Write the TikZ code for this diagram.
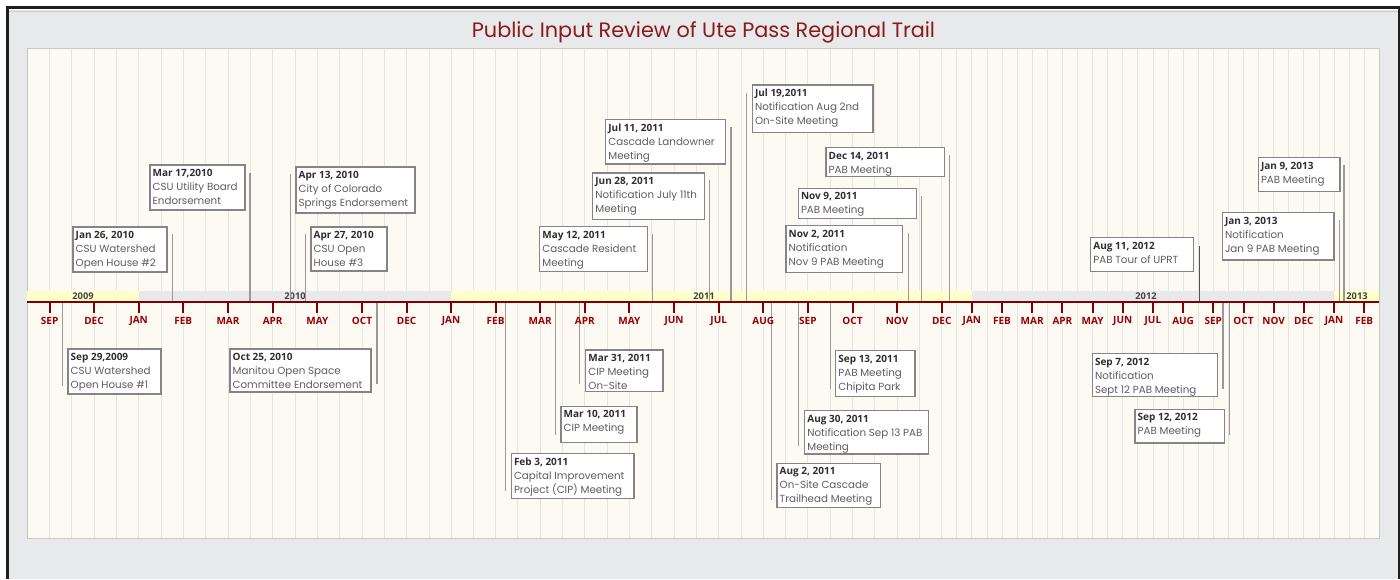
\documentclass[tikz,border=0pt]{standalone}
\usepackage{fontspec}
\setmainfont{Poppins}
\newfontfamily\opensans{Open Sans}
\definecolor{framegray}{HTML}{E8E9EB}
\definecolor{cream}{HTML}{FCFAF3}
\definecolor{gridc}{HTML}{E4E4E4}
\definecolor{plotb}{HTML}{C8C8C8}
\definecolor{axisred}{HTML}{800000}
\definecolor{monthred}{HTML}{990000}
\definecolor{titlered}{HTML}{8B1A1A}
\definecolor{yellowband}{HTML}{FFFFCC}
\definecolor{grayband}{HTML}{E8E9EB}
\definecolor{boxb}{HTML}{858585}
\definecolor{bodyc}{HTML}{5E5E5E}
\definecolor{datec}{HTML}{2E2E2E}
\definecolor{yearc}{HTML}{444444}
\colorlet{connc}{black!40}
\tikzset{
  evbox/.style={draw=boxb, line width=1.1pt, fill=white, inner sep=0pt, outer sep=0pt},
  conn/.style={draw=connc, line width=1.4pt},
  gridline/.style={draw=gridc, line width=0.9pt},
  tickmark/.style={draw=axisred, line width=2pt},
  monthlbl/.style={font=\opensans\bfseries\fontsize{10}{12}\selectfont, text=monthred, inner sep=0pt},
  yearlbl/.style={font=\opensans\bfseries\fontsize{9.3}{10}\selectfont, text=yearc, inner sep=0pt, anchor=base},
  axisline/.style={draw=axisred, line width=2.6pt}
}
\newcommand\evd[1]{\hbox{\opensans\bfseries\fontsize{10}{14}\selectfont\color{datec}#1}}
\newcommand\evl[1]{\hbox{\fontsize{10.3}{14}\selectfont\color{bodyc}#1}}
\newcommand\ev[9]{%
  \node[evbox, anchor=north west, minimum width={(#4-#2)*1pt}, minimum height={(#5-#3)*1pt}] (#1) at (#2,#3) {};
  \node[inner sep=0pt, anchor=base west] (#1t) at ([xshift=2.5pt,yshift=-11.5pt]#1.north west)
     {\vtop{\baselineskip=14pt\lineskiplimit=-10pt #9}};
  \coordinate (#1a) at (#6,#7);
  \coordinate (#1b) at (#6,#8);
  \draw[conn] (#1a) -- (#1b);
}
\begin{document}
\begin{tikzpicture}[x=1pt,y=-1pt]
\useasboundingbox (0,0) rectangle (1400,579);
% frame
\fill[white] (0,0) rectangle (1400,579);
\fill[framegray] (8.5,10.2) rectangle (1398,579);
\draw[plotb, line width=0.8pt] (8.5,11) -- (1398,11);
\draw[black!88, line width=2.6pt] (7.5,579) -- (7.5,7.3) -- (1399,7.3) -- (1399,579);
% title
\node[font=\fontsize{20.8}{24}\selectfont, text=titlered, anchor=base, inner sep=0pt] (title) at (703.5,37.5) {Public Input Review of Ute Pass Regional Trail};
% plot area
\fill[cream] (27.3,48.3) rectangle (1379.3,538);
% grid
\foreach \i in {1,...,18} { \draw[gridline] ({27.3+\i*22.316},48.3) -- ({27.3+\i*22.316},538); }
\foreach \i in {0,...,22} { \draw[gridline] ({451+\i*22.305},48.3) -- ({451+\i*22.305},538); }
\foreach \i in {1,...,28} { \draw[gridline] ({941.7+\i*15.09},48.3) -- ({941.7+\i*15.09},538); }
\draw[plotb, line width=0.9pt] (27.3,48.3) rectangle (1379.3,538);
% year band
\fill[yellowband] (27.3,291) rectangle (138.7,301.5);
\fill[grayband] (138.7,291) rectangle (451,301.5);
\fill[yellowband] (451,291) rectangle (971.9,301.5);
\fill[grayband] (971.9,291) rectangle (1334,301.5);
\fill[yellowband] (1334,291) rectangle (1378.8,301.5);
\node[yearlbl] (y2009) at (83,299.8) {2009};
\node[yearlbl] (y2010) at (295,299.8) {2010};
\node[yearlbl] (y2011) at (704,299.8) {2011};
\node[yearlbl] (y2012) at (1146,299.8) {2012};
\node[yearlbl] (y2013) at (1357,299.8) {2013};
% events above
\ev{e02}{73}{227}{167}{272}{172.7}{234}{302}{\evd{Jan 26, 2010}\evl{CSU Watershed}\evl{Open House \#2}}
\ev{e03}{150}{165}{245}{210}{250}{173}{302}{\evd{Mar 17,2010}\evl{CSU Utility Board}\evl{Endorsement}}
\ev{e04}{296}{167}{415}{213}{290.7}{174}{302}{\evd{Apr 13, 2010}\evl{City of Colorado}\evl{Springs Endorsement}}
\ev{e05}{311}{227}{387}{271}{305.3}{234}{302}{\evd{Apr 27, 2010}\evl{CSU Open}\evl{House \#3}}
\ev{e10}{539.7}{226.7}{647.3}{271.7}{652.7}{234}{302}{\evd{May 12, 2011}\evl{Cascade Resident}\evl{Meeting}}
\ev{e11}{592.7}{173}{704.3}{219.3}{709.7}{180}{302}{\evd{Jun 28, 2011}\evl{Notification July 11th}\evl{Meeting}}
\ev{e12}{605.7}{119.7}{725.7}{164}{731}{127}{302}{\evd{Jul 11, 2011}\evl{Cascade Landowner}\evl{Meeting}}
\ev{e13}{752.3}{85}{873}{132.3}{746.7}{92.7}{301}{\evd{Jul 19,2011}\evl{Notification Aug 2nd}\evl{On-Site Meeting}}
\ev{e17}{786}{225.7}{902.7}{272.7}{908.3}{233.3}{302}{\evd{Nov 2, 2011}\evl{Notification}\evl{Nov 9 PAB Meeting}}
\ev{e18}{798.3}{188.3}{916.7}{218.7}{921.7}{196}{302}{\evd{Nov 9, 2011}\evl{PAB Meeting}}
\ev{e19}{826}{147.7}{944.3}{176.5}{949.7}{155}{302}{\evd{Dec 14, 2011}\evl{PAB Meeting}}
\colorlet{connc}{black!68}
\ev{e20}{1090.7}{237.7}{1193.7}{271.7}{1199.3}{245.7}{302}{\evd{Aug 11, 2012}\evl{PAB Tour of UPRT}}
\colorlet{connc}{black!40}
\ev{e23}{1222.3}{212.7}{1334}{260}{1339.3}{220.3}{302}{\evd{Jan 3, 2013}\evl{Notification}\evl{Jan 9 PAB Meeting}}
\ev{e24}{1258.3}{157.7}{1340}{191.3}{1344}{165}{302}{\evd{Jan 9, 2013}\evl{PAB Meeting}}
% events below
\ev{e01}{68}{349}{161}{394}{62.3}{386}{302}{\evd{Sep 29,2009}\evl{CSU Watershed}\evl{Open House \#1}}
\ev{e06}{230}{349}{371}{392}{377}{384}{302}{\evd{Oct 25, 2010}\evl{Manitou Open Space}\evl{Committee Endorsement}}
\ev{e07}{511.3}{453.7}{634}{498.3}{505.7}{491}{302}{\evd{Feb 3, 2011}\evl{Capital Improvement}\evl{Project (CIP) Meeting}}
\ev{e08}{561}{406.3}{637}{442.3}{555.3}{435}{302}{\evd{Mar 10, 2011}\evl{CIP Meeting}}
\ev{e09}{585.7}{350}{663}{391.7}{579.7}{384.3}{302}{\evd{Mar 31, 2011}\evl{CIP Meeting}\evl{On-Site}}
\ev{e14}{777}{463.3}{880.3}{507.7}{771.3}{500}{302}{\evd{Aug 2, 2011}\evl{On-Site Cascade}\evl{Trailhead Meeting}}
\ev{e15}{804.7}{410.7}{928.3}{454}{798.7}{446.3}{302}{\evd{Aug 30, 2011}\evl{Notification Sep 13 PAB}\evl{Meeting}}
\ev{e16}{835.7}{350.7}{915}{396.3}{830.3}{389}{302}{\evd{Sep 13, 2011}\evl{PAB Meeting}\evl{Chipita Park}}
\ev{e21}{1092.3}{353.7}{1217.7}{396.7}{1223}{389.3}{302}{\evd{Sep 7, 2012}\evl{Notification}\evl{Sept 12 PAB Meeting}}
\ev{e22}{1135}{409.3}{1224.3}{443}{1229.7}{435.3}{302}{\evd{Sep 12, 2012}\evl{PAB Meeting}}
% axis
\coordinate (axl) at (27.3,302);
\coordinate (axr) at (1379.3,302);
\draw[axisline] (axl) -- (axr);
\foreach \x/\m [count=\i] in {49.6/SEP,94/DEC,138.7/JAN,183.3/FEB,228/MAR,272.7/APR,317.3/MAY,362/OCT,406.6/DEC,451/JAN,
  495.6/FEB,540.2/MAR,584.8/APR,629.4/MAY,674/JUN,718.7/JUL,763.3/AUG,807.9/SEP,852.5/OCT,897.1/NOV,941.7/DEC,
  971.9/JAN,1002/FEB,1032.2/MAR,1062.4/APR,1092.6/MAY,1122.7/JUN,1152.9/JUL,1183.1/AUG,1213.3/SEP,1243.5/OCT,1273.7/NOV,1303.8/DEC,1334/JAN,1364.2/FEB} {
  \coordinate (tk\i a) at (\x,302);
  \coordinate (tk\i b) at (\x,313.3);
  \draw[tickmark] (tk\i a) -- (tk\i b);
  \node[monthlbl] (mo\i) at (\x,321) {\m};
}
\end{tikzpicture}
\end{document}
